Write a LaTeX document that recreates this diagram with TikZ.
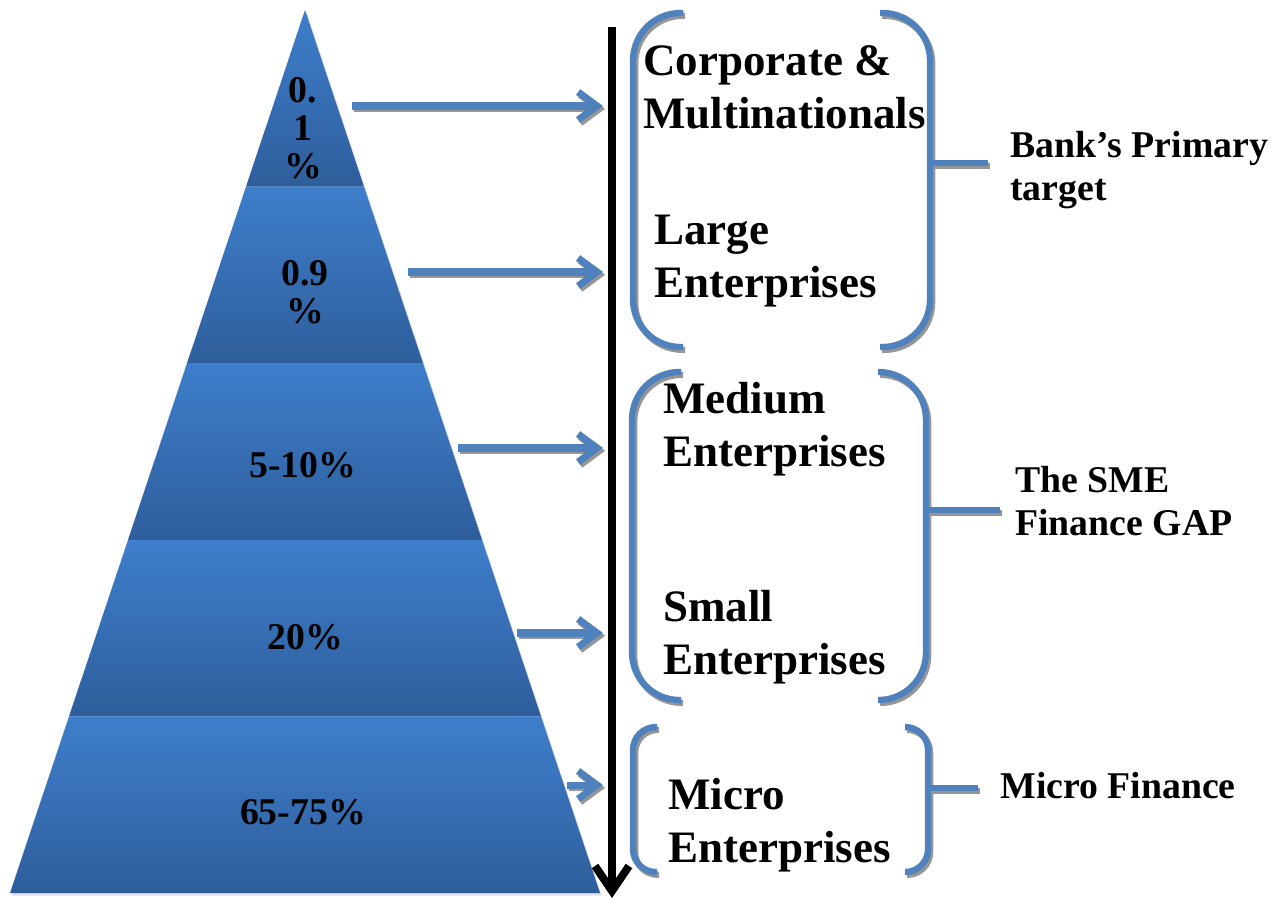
\documentclass[tikz,border=0pt]{standalone}
\usepackage{fontspec}
\setmainfont{Liberation Serif}
\usetikzlibrary{arrows.meta,calc}

\definecolor{bandtop}{RGB}{62,126,203}
\definecolor{bandbot}{RGB}{46,94,156}
\definecolor{linkblue}{RGB}{79,129,189}
\definecolor{shadowgray}{RGB}{150,150,150}

\tikzset{
  sunk/.style={draw=shadowgray, transform canvas={xshift=1.2pt, yshift=-1.6pt}},
  lift/.style={},
  feed/.style={linkblue, line width=4pt, -{Straight Barb[length=0.38cm, width=0.56cm]}},
  brace/.style={linkblue, line width=3.6pt},
  axis/.style={black, line width=4.5pt, -{Straight Barb[length=0.5cm, width=0.68cm]}},
  pct/.style={font=\fontsize{21.5}{21.6}\selectfont\bfseries, align=center},
  grp/.style={font=\fontsize{25.6}{30}\selectfont\bfseries, align=left, anchor=base west, inner sep=0},
  tag/.style={font=\fontsize{21.5}{24}\selectfont\bfseries, align=left, anchor=base west, inner sep=0},
}

\begin{document}
\begin{tikzpicture}[x=0.02cm, y=-0.02cm]
    \useasboundingbox (0,0) rectangle (1280,903);
    % pyramid
    \coordinate (apex) at (305,10);
    \coordinate (bl) at (10,893);
    \coordinate (br) at (600,893);
    \fill[black!12, transform canvas={xshift=1pt, yshift=-1.5pt}] (apex) -- (bl) -- (br) -- cycle;
    \foreach \k in {1,...,5}{
        \pgfmathsetmacro\ta{(\k-1)/5}
        \pgfmathsetmacro\tb{\k/5}
        \shade[top color=bandtop, bottom color=bandbot] ($(apex)!\ta!(bl)$) -- ($(apex)!\tb!(bl)$)
            -- ($(apex)!\tb!(br)$) -- ($(apex)!\ta!(br)$) -- cycle;
    }
    \node[pct] (p1) at (303,128) {0.\\1\\\%};
    \node[pct] (p2) at (305,292) {0.9\\\%};
    \node[pct] (p3) at (303,465) {5-10\%};
    \node[pct] (p4) at (305,637) {20\%};
    \node[pct] (p5) at (303,812) {65-75\%};

    % size axis
    \coordinate (axtop) at (612,27);
    \coordinate (axbot) at (612,898);
    \draw[axis] (axtop) -- (axbot);

    % firm sizes
    \node[grp] (corp) at (643,128) {Corporate \&\\Multinationals};
    \node[grp] (large) at (654,297) {Large\\Enterprises};
    \node[grp] (medium) at (663,466) {Medium\\Enterprises};
    \node[grp] (small) at (663,674) {Small\\Enterprises};
    \node[grp] (micro) at (668,862) {Micro\\Enterprises};

    % who finances them
    \node[tag] (bank) at (1010,200) {Bank’s Primary\\target};
    \node[tag] (gap) at (1015,535) {The SME\\Finance GAP};
    \node[tag] (mf) at (1000,798) {Micro Finance};

    \foreach \i/\xs/\yy in {1/352/106, 2/408/272, 3/458/448, 4/517/633, 5/567/785}{
        \coordinate (s\i) at (\xs,\yy);
        \coordinate (e\i) at (603,\yy);
    }
    \foreach \i/\xa/\xb/\yy in {1/930/988/163, 2/926/1000/510, 3/928/978/788}{
        \coordinate (j\i) at (\xa,\yy);
        \coordinate (k\i) at (\xb,\yy);
    }
    % blue lines, gray copy first
    \foreach \layer in {sunk, lift}{
        \foreach \i in {1,...,5}
            \draw[feed, \layer] (s\i) -- (e\i);
        \draw[brace, \layer, rounded corners=27pt] (683,13) -- (633,13) -- (633,347) -- (683,347);
        \draw[brace, \layer, rounded corners=27pt] (880,13) -- (930,13) -- (930,347) -- (880,347);
        \draw[brace, \layer, rounded corners=27pt] (681,372) -- (632,372) -- (632,700) -- (681,700);
        \draw[brace, \layer, rounded corners=27pt] (878,372) -- (926,372) -- (926,700) -- (878,700);
        \draw[brace, \layer, rounded corners=13pt] (657,727) -- (633,727) -- (633,872) -- (657,872);
        \draw[brace, \layer, rounded corners=13pt] (905,727) -- (928,727) -- (928,872) -- (905,872);
        \foreach \i in {1,2,3}
            \draw[brace, \layer] (j\i) -- (k\i);
    }
\end{tikzpicture}
\end{document}
